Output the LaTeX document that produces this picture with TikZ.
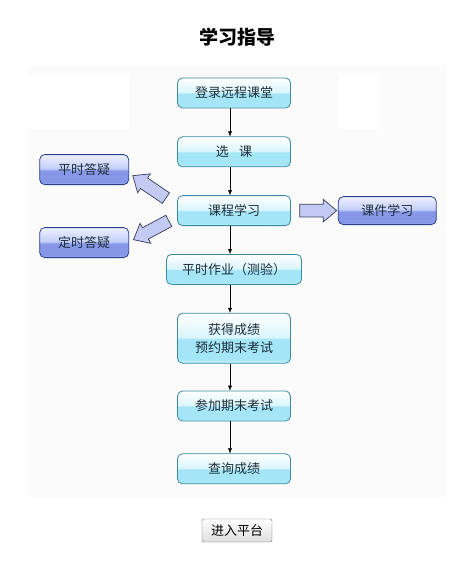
\documentclass[tikz,border=0pt]{standalone}
\usepackage{fontspec}
\newfontfamily\cjk{Noto Sans CJK SC}
\usetikzlibrary{positioning,calc,shapes.arrows,arrows.meta}

\definecolor{panel}{HTML}{FBFBFB}
\definecolor{cyanedge}{HTML}{3A8CA4}
\definecolor{cyanbot}{HTML}{C8F0FB}
\definecolor{cyanlow}{HTML}{A4E6F7}
\definecolor{cyanmid}{HTML}{DAF5FD}
\definecolor{blueedge}{HTML}{2C418E}
\definecolor{bluebot}{HTML}{AAB6F2}
\definecolor{bluelow}{HTML}{8697E8}
\definecolor{bluemid}{HTML}{C4CEF9}
\definecolor{bluetop}{HTML}{EEF1FF}
\definecolor{boxtext}{HTML}{1C2E3C}
\definecolor{arrowfill}{HTML}{C3CBF5}
\definecolor{arrowedge}{HTML}{363C58}

\pgfdeclareverticalshading{cyanglass}{100bp}{color(0bp)=(cyanbot); color(25bp)=(cyanbot); color(29bp)=(cyanlow); color(49bp)=(cyanlow); color(51bp)=(cyanmid); color(75bp)=(white); color(100bp)=(white)}
\pgfdeclareverticalshading{blueglass}{100bp}{color(0bp)=(bluebot); color(25bp)=(bluebot); color(29bp)=(bluelow); color(48bp)=(bluelow); color(52bp)=(bluemid); color(75bp)=(bluetop); color(100bp)=(bluetop)}

\tikzset{
  stepbox/.style={draw=cyanedge, line width=0.8pt, rounded corners=5pt, shade, shading=cyanglass,
    minimum width=113pt, minimum height=30pt, inner sep=2pt, text=boxtext,
    font=\cjk\fontsize{13}{18}\selectfont},
  askbox/.style={draw=blueedge, line width=0.8pt, rounded corners=5pt, shade, shading=blueglass,
    minimum width=89pt, minimum height=30pt, inner sep=2pt, text=boxtext,
    font=\cjk\fontsize{13}{18}\selectfont},
  bigarrow/.style={single arrow, draw=arrowedge, fill=arrowfill, line width=0.7pt,
    inner xsep=0pt, inner ysep=6pt, single arrow head extend=5pt,
    single arrow tip angle=80},
  button/.style={draw=black!55, rounded corners=2pt, top color=white, bottom color=black!13,
    minimum width=70pt, minimum height=23pt, inner sep=1pt,
    font=\cjk\fontsize{13}{16}\selectfont},
  title/.style={font=\cjk\bfseries\fontsize{19}{22}\selectfont}
}

\begin{document}
\begin{tikzpicture}[x=1pt, y=-1pt, node distance=28pt, >={Latex[length=5pt,width=4pt]}]
\useasboundingbox (0,0) rectangle (467,567);
\fill[white] (0,0) rectangle (467,567);
\fill[panel] (28,66) rectangle (446,497);
\fill[white] (28,74) rectangle (129,129);
\fill[white] (339,74) rectangle (380,129);

\node[title] (head) at (237,37) {学习指导};

% main steps
\node[stepbox] (login) at (234,93) {登录远程课堂};
\node[stepbox, below=of login] (select) {选\hspace{0.8em}课};
\node[stepbox, below=of select] (study) {课程学习};
\node[stepbox, below=of study, minimum width=135pt] (homework) {平时作业（测验）};
\node[stepbox, below=of homework, minimum height=50pt, align=center] (grade) {获得成绩\\预约期末考试};
\node[stepbox, below=27pt of grade] (exam) {参加期末考试};
\node[stepbox, below=32pt of exam] (query) {查询成绩};

% side boxes
\node[askbox, left=48pt of study, yshift=41pt] (ask1) {平时答疑};
\node[askbox, left=48pt of study, yshift=-32pt] (ask2) {定时答疑};
\node[askbox, right=47pt of study, minimum width=98pt, minimum height=28pt] (ware) {课件学习};

% block arrows
\node[bigarrow, minimum height=37pt] (toware) at ($(study.east)!0.5!(ware.west)$) {};
\node[bigarrow, minimum height=40pt, rotate=146] (toask1) at (152.5,189) {};
\node[bigarrow, minimum height=40pt, rotate=208] (toask2) at (154.5,228.5) {};

\foreach \a/\b in {login/select, select/study, study/homework, homework/grade, grade/exam, exam/query}
  \draw[->] ([xshift=-4pt]\a.south) -- ([xshift=-4pt]\b.north);

\node[button] (enter) at (237,530.5) {进入平台};
\end{tikzpicture}
\end{document}
